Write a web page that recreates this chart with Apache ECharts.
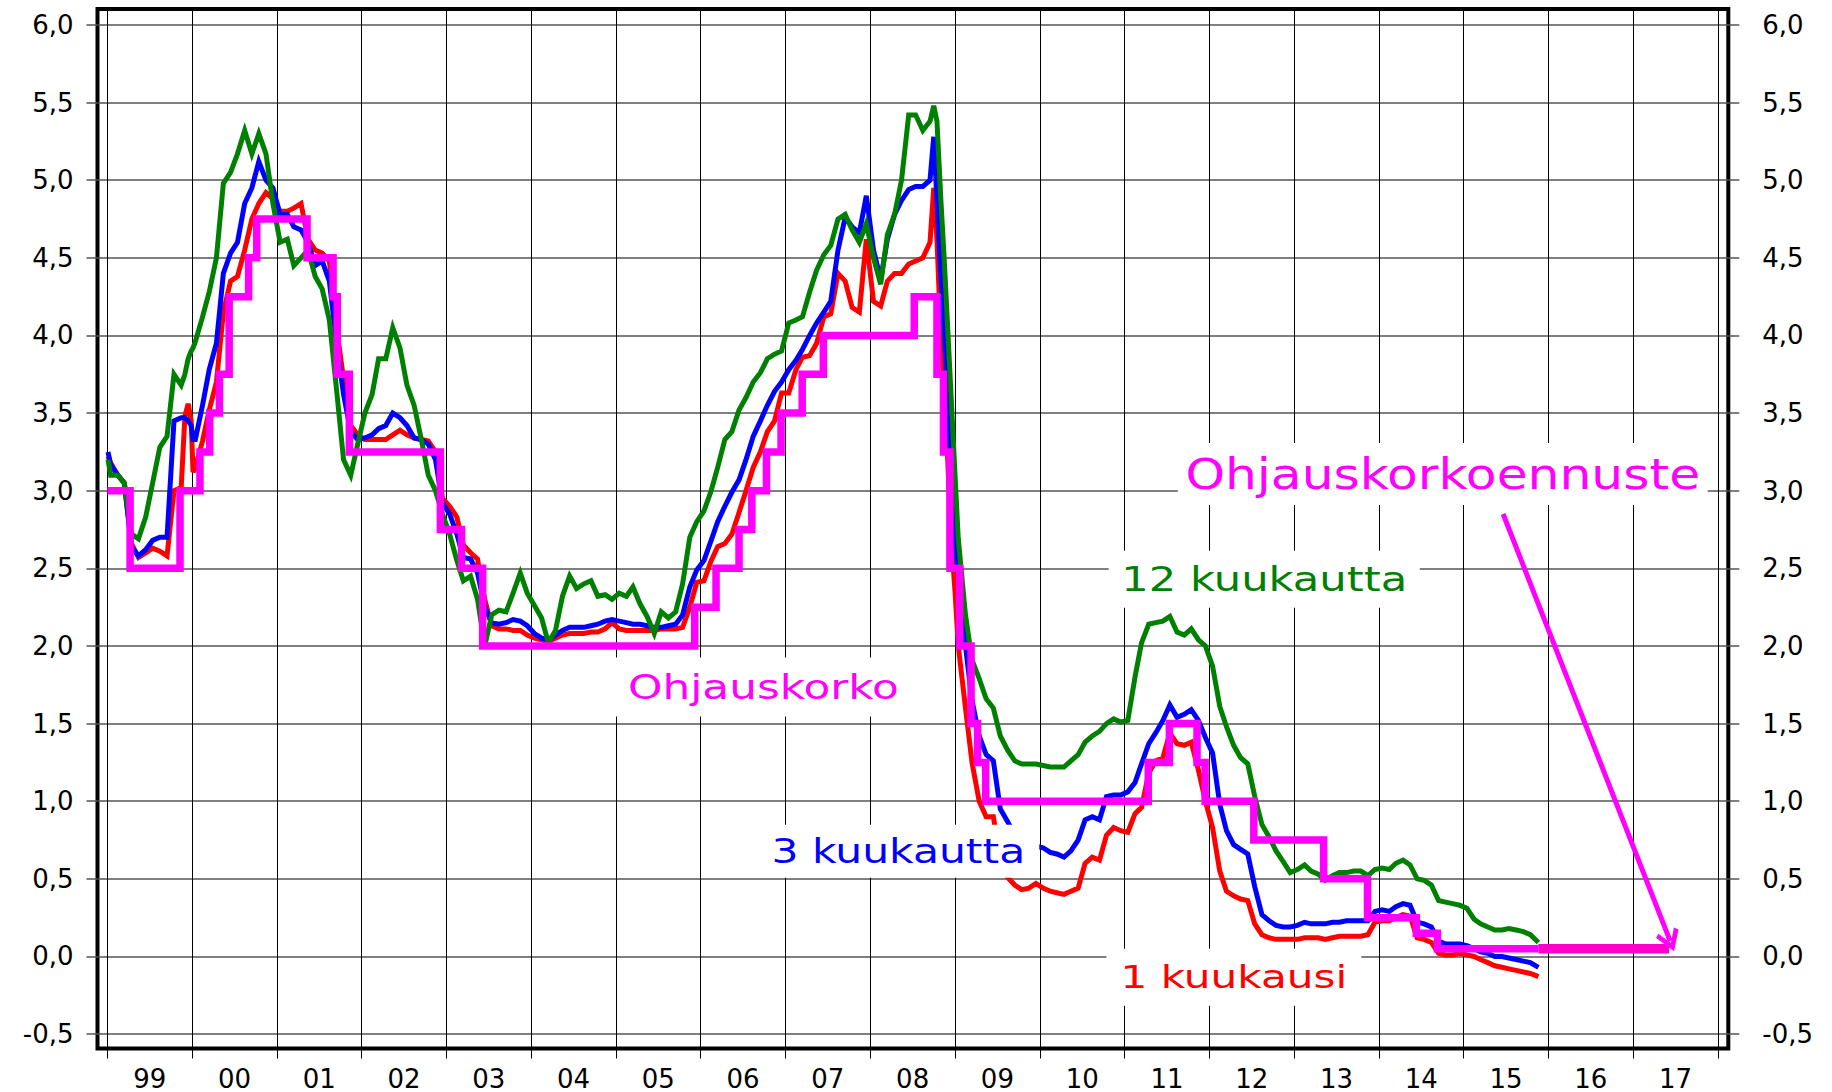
<!DOCTYPE html>
<html>
<head>
<meta charset="utf-8">
<script src="https://cdn.jsdelivr.net/npm/echarts@6/dist/echarts.min.js"></script>
<style>
html,body{margin:0;padding:0;background:#fff;}
#c{width:1832px;height:1092px;}
</style>
</head>
<body>
<div id="c"></div>
<script>
// ---------- DATA ----------
const full = y => ['01','02','03','04','05','06','07','08','09','10','11','12'].map(m => y + '-' + m + '-15');

const dates = [
  '1999-01-04','1999-01-15','1999-02-15','1999-03-15','1999-04-15','1999-05-15','1999-06-15','1999-07-15','1999-08-15','1999-09-15','1999-10-15','1999-11-15','1999-12-01','1999-12-15','1999-12-28',
  '2000-01-05', ...full(2000),
  ...full(2001), ...full(2002), ...full(2003), ...full(2004), ...full(2005), ...full(2006), ...full(2007),
  ...full(2008).slice(0, 9), '2008-10-01','2008-10-15','2008-11-01','2008-11-15','2008-12-01','2008-12-15',
  '2009-01-01', ...full(2009),
  ...full(2010), ...full(2011), ...full(2012), ...full(2013), ...full(2014),
  ...full(2015).slice(0, 10), '2015-11-19'
];

// 1 kuukausi (1-month Euribor)
const kk1 = [
  3.22,3.18,3.10,3.05,2.66,2.57,2.60,2.63,2.61,2.58,3.00,3.02,3.48,3.56,3.45,
  3.12,3.15,3.32,3.52,3.70,4.15,4.35,4.38,4.55,4.75,4.85,4.92,4.88,
  4.80,4.80,4.82,4.85,4.62,4.55,4.53,4.48,4.05,3.72,3.42,3.36,
  3.33,3.33,3.33,3.33,3.36,3.39,3.36,3.34,3.33,3.32,3.25,2.95,
  2.90,2.83,2.65,2.60,2.56,2.30,2.13,2.11,2.11,2.10,2.10,2.07,
  2.05,2.04,2.03,2.05,2.07,2.08,2.08,2.08,2.09,2.09,2.11,2.15,
  2.11,2.10,2.10,2.10,2.10,2.10,2.11,2.11,2.11,2.12,2.25,2.41,
  2.42,2.55,2.64,2.66,2.72,2.86,3.00,3.15,3.25,3.38,3.45,3.63,
  3.63,3.78,3.86,3.87,3.95,4.12,4.14,4.40,4.35,4.18,4.15,4.62,
  4.22,4.19,4.35,4.40,4.40,4.46,4.48,4.50,4.60,4.95,4.62,3.98,3.68,3.18,2.70,
  2.35,2.00,1.60,1.25,1.00,0.90,0.90,0.62,0.51,0.46,0.43,0.44,0.47,
  0.44,0.42,0.41,0.40,0.42,0.44,0.60,0.64,0.62,0.78,0.83,0.81,
  0.80,0.92,0.96,1.18,1.26,1.28,1.44,1.37,1.36,1.38,1.20,1.00,
  0.83,0.55,0.42,0.39,0.37,0.36,0.21,0.14,0.12,0.11,0.11,0.11,
  0.11,0.12,0.12,0.12,0.11,0.12,0.13,0.13,0.13,0.13,0.14,0.22,
  0.23,0.23,0.25,0.27,0.26,0.12,0.11,0.09,0.02,0.01,0.01,0.02,
  0.01,0.00,-0.02,-0.04,-0.06,-0.07,-0.08,-0.09,-0.10,-0.11,-0.13
];

// 3 kuukautta (3-month Euribor)
const kk3 = [
  3.25,3.17,3.10,3.05,2.64,2.58,2.62,2.68,2.70,2.70,3.45,3.47,3.47,3.45,3.42,
  3.33,3.33,3.55,3.78,3.95,4.40,4.53,4.60,4.85,4.95,5.12,5.00,4.95,
  4.78,4.78,4.70,4.68,4.60,4.45,4.48,4.35,3.95,3.62,3.38,3.33,
  3.34,3.36,3.40,3.42,3.50,3.47,3.42,3.34,3.33,3.30,3.20,2.92,
  2.85,2.72,2.57,2.56,2.47,2.25,2.15,2.14,2.15,2.17,2.16,2.13,
  2.08,2.05,2.04,2.07,2.10,2.12,2.12,2.12,2.13,2.14,2.16,2.17,
  2.16,2.15,2.14,2.14,2.13,2.12,2.12,2.13,2.14,2.20,2.38,2.49,
  2.55,2.68,2.80,2.90,2.99,3.07,3.20,3.35,3.45,3.55,3.64,3.70,
  3.78,3.84,3.91,4.00,4.08,4.15,4.22,4.55,4.76,4.70,4.66,4.90,
  4.55,4.36,4.62,4.78,4.87,4.94,4.96,4.96,5.00,5.28,4.87,4.38,4.02,3.57,3.17,
  2.68,2.45,2.00,1.65,1.42,1.30,1.26,0.95,0.87,0.78,0.74,0.72,0.71,
  0.70,0.67,0.66,0.64,0.68,0.75,0.88,0.90,0.88,1.03,1.04,1.04,
  1.06,1.12,1.24,1.37,1.44,1.52,1.62,1.54,1.56,1.59,1.52,1.41,
  1.31,0.98,0.81,0.72,0.69,0.66,0.45,0.27,0.23,0.20,0.19,0.19,
  0.20,0.22,0.21,0.21,0.21,0.22,0.22,0.23,0.23,0.23,0.23,0.29,
  0.30,0.29,0.32,0.34,0.33,0.22,0.21,0.19,0.10,0.08,0.08,0.08,
  0.07,0.05,0.03,0.02,0.00,0.00,-0.01,-0.02,-0.03,-0.04,-0.07
];

// 12 kuukautta (12-month Euribor)
const kk12 = [
  3.20,3.10,3.10,3.05,2.72,2.69,2.83,3.05,3.28,3.35,3.75,3.68,3.75,3.85,3.90,
  3.92,3.96,4.12,4.28,4.50,4.98,5.05,5.17,5.32,5.17,5.30,5.17,4.85,
  4.60,4.62,4.45,4.50,4.55,4.38,4.30,4.10,3.65,3.20,3.10,3.30,
  3.50,3.62,3.85,3.85,4.05,3.92,3.68,3.55,3.33,3.10,3.00,2.85,
  2.72,2.55,2.42,2.45,2.30,2.00,2.20,2.23,2.22,2.34,2.47,2.34,
  2.26,2.18,2.02,2.10,2.32,2.45,2.37,2.40,2.42,2.32,2.33,2.30,
  2.34,2.32,2.38,2.27,2.19,2.08,2.22,2.18,2.22,2.40,2.70,2.80,
  2.87,3.00,3.15,3.33,3.38,3.52,3.60,3.70,3.76,3.85,3.88,3.90,
  4.08,4.10,4.12,4.28,4.42,4.52,4.58,4.75,4.78,4.68,4.60,4.72,
  4.50,4.33,4.65,4.78,5.00,5.42,5.42,5.32,5.38,5.48,5.38,4.87,4.50,4.03,3.61,
  3.10,2.69,2.20,1.91,1.79,1.66,1.60,1.42,1.33,1.26,1.24,1.24,1.24,
  1.23,1.22,1.22,1.22,1.26,1.30,1.38,1.42,1.45,1.50,1.53,1.51,
  1.52,1.80,2.02,2.14,2.15,2.16,2.19,2.09,2.07,2.11,2.04,2.00,
  1.87,1.61,1.48,1.36,1.28,1.24,1.03,0.85,0.77,0.68,0.61,0.54,
  0.56,0.59,0.55,0.53,0.49,0.52,0.54,0.54,0.55,0.55,0.52,0.56,
  0.57,0.56,0.60,0.62,0.59,0.50,0.49,0.46,0.36,0.35,0.34,0.33,
  0.31,0.24,0.21,0.19,0.17,0.17,0.18,0.17,0.16,0.14,0.09
];

// Ohjauskorko (policy rate), value holds from each date until the next
const policyDates = ['1999-01-01','1999-04-09','1999-11-10','2000-02-04','2000-03-17','2000-04-28','2000-06-09','2000-09-01','2000-10-06','2001-05-11','2001-08-31','2001-09-18','2001-11-09','2002-12-06','2003-03-07','2003-06-06','2005-12-06','2006-03-08','2006-06-15','2006-08-09','2006-10-11','2006-12-13','2007-03-14','2007-06-13','2008-07-09','2008-10-15','2008-11-12','2008-12-10','2009-01-21','2009-03-11','2009-04-08','2009-05-13','2011-04-13','2011-07-13','2011-11-09','2011-12-14','2012-07-11','2013-05-08','2013-11-13','2014-06-11','2014-09-10','2015-11-19'];
const policyRates = [3.00,2.50,3.00,3.25,3.50,3.75,4.25,4.50,4.75,4.50,4.25,3.75,3.25,2.75,2.50,2.00,2.25,2.50,2.75,3.00,3.25,3.50,3.75,4.00,4.25,3.75,3.25,2.50,2.00,1.50,1.25,1.00,1.25,1.50,1.25,1.00,0.75,0.50,0.25,0.15,0.05,0.05];

// Ohjauskorkoennuste (policy rate forecast)
const forecastDates = ['2015-11-19','2017-06-05'];
const forecastRates = [0.05, 0.05];

// Arrow annotation (data coordinates)
const arrowFrom = ['2015-06-20', 2.85];
const arrowTo = ['2017-06-09', 0.10];

// Axis ticks and labels
const yearTicks = [1999,2000,2001,2002,2003,2004,2005,2006,2007,2008,2009,2010,2011,2012,2013,2014,2015,2016,2017,2018];
const yearLabels = ['99','00','01','02','03','04','05','06','07','08','09','10','11','12','13','14','15','16','17'];
const yTicks = [-0.5,0,0.5,1,1.5,2,2.5,3,3.5,4,4.5,5,5.5,6];

// Text annotations and their anchor points (data coordinates)
const annoTexts = ['Ohjauskorkoennuste','12 kuukautta','Ohjauskorko','3 kuukautta','1 kuukausi'];
const annoAnchors = [['2014-10-03',3.107],['2012-08-25',2.43],['2006-09-28',1.735],['2008-05-01',0.678],['2012-04-16',-0.134]];

// ---------- STYLE ----------
const FONT = 'DejaVu Sans';
const C_RED = '#ff0000', C_BLUE = '#0000ff', C_GREEN = '#008000', C_MAG = '#ff00ff', C_FC = '#ff00cc';
const annoStyle = [
  {color: C_MAG,   size: 42, w: 515, boxW: 530, boxH: 62},
  {color: C_GREEN, size: 33, w: 286, boxW: 311, boxH: 57},
  {color: C_MAG,   size: 34, w: 271, boxW: 295, boxH: 59},
  {color: C_BLUE,  size: 34, w: 254, boxW: 282, boxH: 53},
  {color: C_RED,   size: 32, w: 227, boxW: 255, boxH: 57}
];

// ---------- BUILD ----------
const yf = s => {
  const [y, m, d] = s.split('-').map(Number);
  const a = Date.UTC(y, 0, 1), b = Date.UTC(y + 1, 0, 1);
  return y + (Date.UTC(y, m - 1, d) - a) / (b - a);
};
const pairs = (ds, vs) => ds.map((d, i) => [yf(d), vs[i]]);
const yearLabelPos = yearLabels.map((_, i) => yearTicks[i] + 0.5);
const yFmt = v => v.toFixed(1).replace('.', ',');

const baseLine = (name, data, color, width, extra) => Object.assign({
  type: 'line', name, data, showSymbol: false, symbol: 'none', silent: true,
  lineStyle: {color, width, join: 'miter', cap: 'butt'},
  itemStyle: {color}, emphasis: {disabled: true}, animation: false
}, extra || {});

const chart = echarts.init(document.getElementById('c'), null, {renderer: 'svg', width: 1832, height: 1092});

const yAxisBase = {
  type: 'value', min: -0.593, max: 6.103,
  axisLine: {show: false, onZero: false},
  axisTick: {show: true, customValues: yTicks, length: 11, lineStyle: {color: '#555', width: 1.5}},
  axisLabel: {customValues: yTicks, formatter: yFmt, color: '#000', fontSize: 26, fontFamily: FONT}
};

const option = {
  animation: false,
  backgroundColor: '#fff',
  grid: {left: 97.5, right: 103.7, top: 9, bottom: 43.5, show: true, borderColor: '#000', borderWidth: 4,
         backgroundColor: 'transparent', containLabel: false, outerBoundsMode: 'none'},
  xAxis: {
    type: 'value', min: 1998.884, max: 2018.122,
    axisLine: {show: false, onZero: false},
    axisTick: {show: true, customValues: yearTicks, length: 10, lineStyle: {color: '#000', width: 1}},
    splitLine: {show: true, lineStyle: {color: '#000', width: 1}},
    axisLabel: {customValues: yearLabelPos, formatter: v => yearLabels[Math.round(v - 0.5) - 1999],
                margin: 17, color: '#000', fontSize: 26, fontFamily: FONT}
  },
  yAxis: [
    Object.assign({}, yAxisBase, {position: 'left',
      splitLine: {show: true, lineStyle: {color: '#555', width: 1.5}},
      axisLabel: Object.assign({}, yAxisBase.axisLabel, {margin: 24})}),
    Object.assign({}, yAxisBase, {position: 'right', splitLine: {show: false},
      axisLabel: Object.assign({}, yAxisBase.axisLabel, {margin: 34})})
  ],
  series: [
    baseLine('1 kuukausi', pairs(dates, kk1), C_RED, 5),
    baseLine('3 kuukautta', pairs(dates, kk3), C_BLUE, 5),
    baseLine('12 kuukautta', pairs(dates, kk12), C_GREEN, 5),
    baseLine('Ohjauskorko', pairs(policyDates, policyRates), C_MAG, 7.5, {step: 'end'}),
    baseLine('Ohjauskorkoennuste', pairs(forecastDates, forecastRates), C_FC, 9.5, {
      markLine: {
        silent: true, animation: false,
        symbol: ['none', 'path://M10,0L20,17L17,20L10,8L3,20L0,17Z'],
        symbolSize: [24, 22],
        label: {show: false},
        emphasis: {disabled: true},
        itemStyle: {color: C_MAG},
        lineStyle: {color: C_MAG, width: 5, type: 'solid'},
        data: [[{coord: [yf(arrowFrom[0]), arrowFrom[1]]}, {coord: [yf(arrowTo[0]), arrowTo[1]]}]]
      }
    })
  ]
};
chart.setOption(option);

// Text annotations with white boxes, anchored in data coordinates
const ctx = document.createElement('canvas').getContext('2d');
const graphics = annoTexts.map((t, i) => {
  const s = annoStyle[i];
  ctx.font = s.size + 'px "' + FONT + '"';
  const mw = ctx.measureText(t).width || s.w;
  const sx = s.w / mw;
  const p = chart.convertToPixel({gridIndex: 0}, [yf(annoAnchors[i][0]), annoAnchors[i][1]]);
  return {
    type: 'text', x: p[0], y: p[1], scaleX: sx, z: 100, silent: true,
    style: {
      text: t, fill: s.color, fontSize: s.size, fontFamily: FONT,
      align: 'center', verticalAlign: 'middle',
      backgroundColor: '#fff',
      padding: [(s.boxH - s.size) / 2, (s.boxW - s.w) / 2 / sx]
    }
  };
});
chart.setOption({graphic: graphics});
</script>
</body>
</html>
